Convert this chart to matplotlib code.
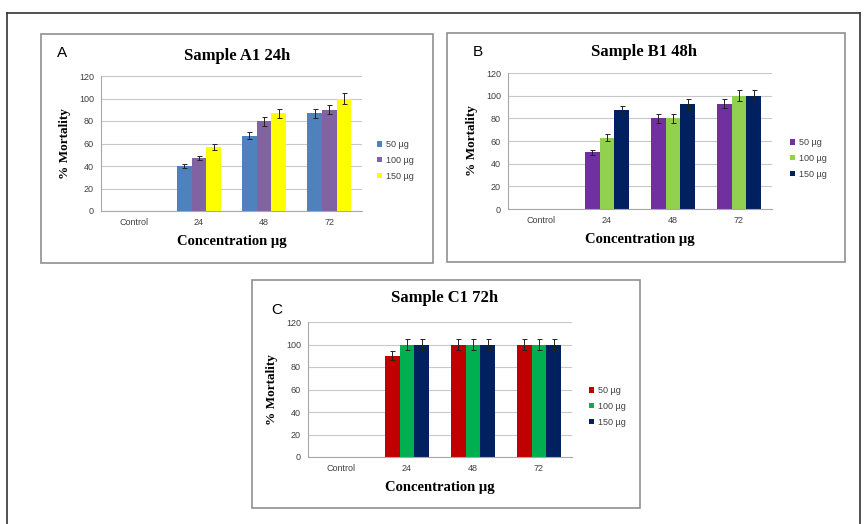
import matplotlib
matplotlib.use("Agg")
import matplotlib.pyplot as plt
from matplotlib.patches import Rectangle
import numpy as np

W, H = 864, 524

categories = ["Control", "24", "48", "72"]
doses = ["50 µg", "100 µg", "150 µg"]

# values per dose, one list per panel (Control has no bar)
a_vals = [[0, 40, 67, 87], [0, 47, 80, 90], [0, 57, 87, 100]]
a_errs = [[0, 2, 3, 4], [0, 2, 4, 4], [0, 3, 4, 5]]
b_vals = [[0, 50, 80, 93], [0, 63, 80, 100], [0, 87, 93, 100]]
b_errs = [[0, 2, 4, 4], [0, 3, 4, 5], [0, 4, 4, 5]]
c_vals = [[0, 90, 100, 100], [0, 100, 100, 100], [0, 100, 100, 100]]
c_errs = [[0, 4, 5, 5], [0, 5, 5, 5], [0, 5, 5, 5]]

a_colors = ["#4F81BD", "#8064A2", "#FFFF00"]
b_colors = ["#7030A0", "#92D050", "#002060"]
c_colors = ["#C00000", "#00B050", "#002060"]

SERIF = "Liberation Serif"
SANS = "Liberation Sans"


def fx(x):
    return x / W


def fy(y):
    return 1 - y / H


fig = plt.figure(figsize=(W / 100, H / 100), dpi=100)

# outer page frame
fig.add_artist(plt.Line2D([fx(7), fx(860)], [fy(13), fy(13)], color="#333333", lw=1.2))
fig.add_artist(plt.Line2D([fx(7), fx(7)], [fy(13), fy(524)], color="#333333", lw=1.2))
fig.add_artist(plt.Line2D([fx(860), fx(860)], [fy(13), fy(524)], color="#333333", lw=1.2))


def panel(box, axbox, letter, letter_xy, title, title_xy, vals, errs, colors, leg_xy, xlab_y):
    x0, y0, x1, y1 = box
    fig.add_artist(Rectangle((fx(x0), fy(y1)), fx(x1 - x0), (y1 - y0) / H,
                             fill=False, ec="#909090", lw=1.2))
    l, t, r, b = axbox
    ax = fig.add_axes([fx(l), fy(b), fx(r - l), (b - t) / H])
    x = np.arange(len(categories))
    w = 0.225
    for i, d in enumerate(doses):
        v = np.array(vals[i], dtype=float)
        e = np.array(errs[i], dtype=float)
        pos = x + (i - 1) * w
        ax.bar(pos[1:], v[1:], w, color=colors[i], label=d, zorder=2)
        ax.errorbar(pos[1:], v[1:], yerr=e[1:], fmt="none", ecolor="#222222",
                    elinewidth=0.7, capsize=1.8, capthick=0.7, zorder=3)
    ax.set_xlim(-0.5, len(categories) - 0.5)
    ax.set_ylim(0, 120)
    ax.set_yticks(np.arange(0, 121, 20))
    ax.set_xticks(x)
    ax.set_xticklabels(categories)
    ax.yaxis.grid(True, color="#C8C8C8", lw=0.8, zorder=0)
    ax.set_axisbelow(True)
    for s in ["top", "right"]:
        ax.spines[s].set_visible(False)
    for s in ["left", "bottom"]:
        ax.spines[s].set_color("#A8A8A8")
        ax.spines[s].set_linewidth(0.8)
    ax.tick_params(length=0, labelsize=6.5, colors="#404040", pad=5)
    for lab in ax.get_xticklabels() + ax.get_yticklabels():
        lab.set_family(SANS)
    ax.set_ylabel("% Mortality", family=SERIF, fontweight="bold", fontsize=9.5, labelpad=6)
    fig.text(fx((l + r) / 2), fy(xlab_y), "Concentration µg", family=SERIF,
             fontweight="bold", fontsize=10.5, ha="center", va="center")
    fig.text(fx(title_xy[0]), fy(title_xy[1]), title, family=SERIF,
             fontweight="bold", fontsize=12, ha="center", va="center")
    fig.text(fx(letter_xy[0]), fy(letter_xy[1]), letter, family=SANS,
             fontsize=11, ha="center", va="center")
    leg = ax.legend(loc="upper left", bbox_to_anchor=(fx(leg_xy[0]), fy(leg_xy[1])),
                    bbox_transform=fig.transFigure, frameon=False, fontsize=6.5,
                    handlelength=0.55, handleheight=0.55, handletextpad=0.4,
                    labelspacing=0.75, borderpad=0, borderaxespad=0)
    for txt in leg.get_texts():
        txt.set_family(SANS)
        txt.set_color("#404040")
    return ax


panel((41, 34, 433, 263), (101, 76, 362, 211), "A", (62, 53), "Sample A1 24h", (237, 56),
      a_vals, a_errs, a_colors, (377, 140), 242)
panel((447, 33, 845, 262), (508, 73, 772, 209), "B", (478, 52), "Sample B1 48h", (644, 52),
      b_vals, b_errs, b_colors, (790, 138), 240)
panel((252, 280, 640, 508), (308, 322, 572, 457), "C", (277, 310), "Sample C1 72h", (445, 298),
      c_vals, c_errs, c_colors, (589, 386), 488)

fig.savefig("out.png", dpi=100)
